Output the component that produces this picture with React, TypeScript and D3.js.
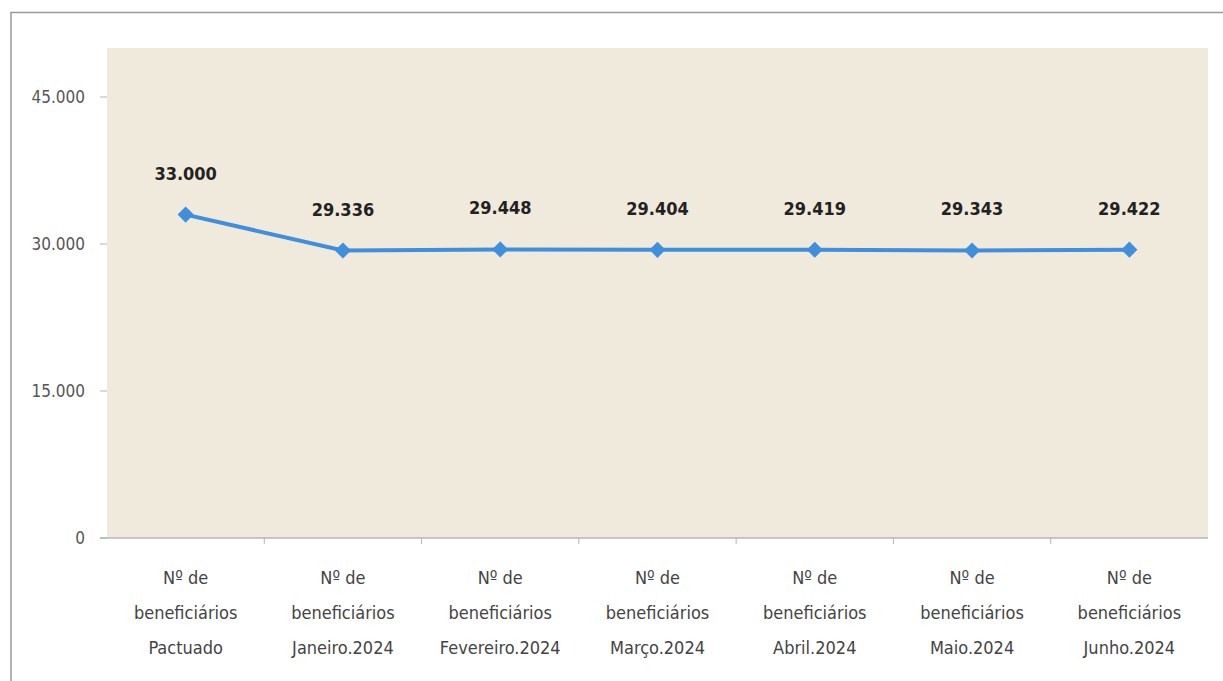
import React, { useEffect, useRef } from 'react'
import * as d3 from 'd3'

const categories = ['Pactuado', 'Janeiro.2024', 'Fevereiro.2024', 'Março.2024', 'Abril.2024', 'Maio.2024', 'Junho.2024']
const beneficiarios = [33000, 29336, 29448, 29404, 29419, 29343, 29422]
const yTicks = [0, 15000, 30000, 45000]

const fmt = (v: number) => d3.format(',')(v).replace(/,/g, '.')

const App = () => {
  const ref = useRef<SVGSVGElement>(null)

  useEffect(() => {
    const width = 1223
    const height = 681
    const margin = { top: 48, right: 15, bottom: 143, left: 107 }
    const innerW = width - margin.left - margin.right
    const innerH = height - margin.top - margin.bottom
    const font = '"DejaVu Sans Condensed", "Liberation Sans Narrow", "Open Sans", sans-serif'

    const svg = d3.select(ref.current)
    svg.selectAll('*').remove()

    // outer frame (top and left edges visible)
    svg.append('path')
      .attr('d', `M11,${height + 2} L11,12.5 L${width + 2},12.5`)
      .attr('fill', 'none')
      .attr('stroke', '#9a9a9a')
      .attr('stroke-width', 1.5)

    const bounds = svg.append('g')
      .attr('transform', `translate(${margin.left},${margin.top})`)

    const x = d3.scaleBand<string>()
      .domain(categories)
      .range([0, innerW])

    const y = d3.scaleLinear()
      .domain([0, 50000])
      .range([innerH, 0])

    bounds.append('rect')
      .attr('width', innerW)
      .attr('height', innerH)
      .attr('fill', '#f0eadd')

    // y axis ticks
    const yAxis = bounds.append('g')
    yTicks.forEach(t => {
      yAxis.append('line')
        .attr('x1', -7).attr('x2', 0)
        .attr('y1', y(t)).attr('y2', y(t))
        .attr('stroke', '#b5b5b5')
      yAxis.append('text')
        .attr('x', -22)
        .attr('y', y(t))
        .attr('dy', '0.35em')
        .attr('text-anchor', 'end')
        .attr('font-family', font)
        .attr('font-size', 17)
        .attr('fill', '#555')
        .text(fmt(t))
    })

    // x axis line and boundary ticks
    const xAxis = bounds.append('g').attr('transform', `translate(0,${innerH})`)
    xAxis.append('line')
      .attr('x1', -7).attr('x2', innerW)
      .attr('stroke', '#b5b5b5')
      .attr('stroke-width', 1.5)
    categories.forEach((c, i) => {
      if (i > 0) {
        xAxis.append('line')
          .attr('x1', x(c)!).attr('x2', x(c)!)
          .attr('y1', 0).attr('y2', 6)
          .attr('stroke', '#b5b5b5')
      }
      const lines = ['Nº de', 'beneficiários', c]
      const t = xAxis.append('text')
        .attr('text-anchor', 'middle')
        .attr('font-family', font)
        .attr('font-size', 18)
        .attr('fill', '#444')
      lines.forEach((l, j) => {
        t.append('tspan')
          .attr('x', x(c)! + x.bandwidth() / 2)
          .attr('y', 46 + j * 35)
          .text(l)
      })
    })

    const cx = (i: number) => x(categories[i])! + x.bandwidth() / 2

    const line = d3.line<number>()
      .x((_, i) => cx(i))
      .y(d => y(d))

    bounds.append('path')
      .attr('d', line(beneficiarios))
      .attr('fill', 'none')
      .attr('stroke', '#3f8fdc')
      .attr('stroke-width', 4)

    const diamond = d3.symbol().type(d3.symbolSquare).size(130)
    bounds.selectAll('.marker')
      .data(beneficiarios)
      .join('path')
      .attr('class', 'marker')
      .attr('d', diamond)
      .attr('transform', (d, i) => `translate(${cx(i)},${y(d)}) rotate(45)`)
      .attr('fill', '#3f8fdc')

    bounds.selectAll('.label')
      .data(beneficiarios)
      .join('text')
      .attr('class', 'label')
      .attr('x', (_, i) => cx(i))
      .attr('y', d => y(d) - 35)
      .attr('text-anchor', 'middle')
      .attr('font-family', font)
      .attr('font-weight', 'bold')
      .attr('font-size', 18)
      .attr('fill', '#222')
      .text(d => fmt(d))
  }, [])

  return (
    <svg ref={ref} width={1223} height={681}
      style={{ position: 'absolute', left: 0, top: 0, background: '#fff' }} />
  )
}

export default App
